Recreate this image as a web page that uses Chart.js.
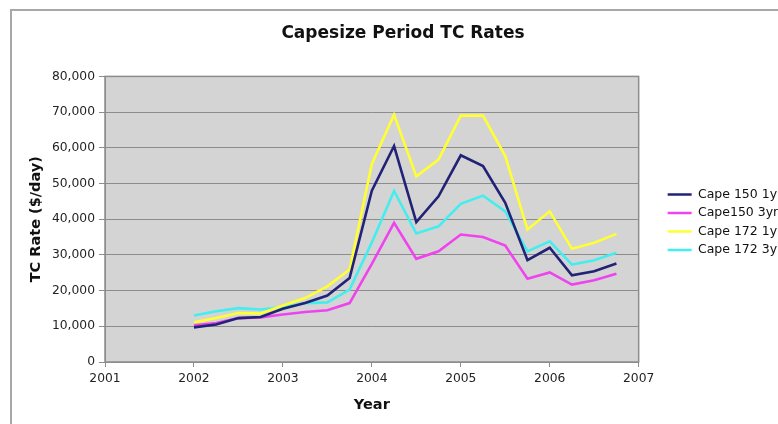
<!DOCTYPE html>
<html>
<head>
<meta charset="utf-8">
<title>Capesize Period TC Rates</title>
<script src="https://cdn.jsdelivr.net/npm/chart.js@4.4.0/dist/chart.umd.min.js"></script>
<style>
  html, body { margin: 0; padding: 0; background: #fff; overflow: hidden; }
  #wrap { position: relative; width: 800px; height: 424px; }
</style>
</head>
<body>
<div id="wrap"><canvas id="chart" width="800" height="424"></canvas></div>
<script>
// Quarterly time-charter rates, $/day
const quarters = [
  2002, 2002.25, 2002.5, 2002.75,
  2003, 2003.25, 2003.5, 2003.75,
  2004, 2004.25, 2004.5, 2004.75,
  2005, 2005.25, 2005.5, 2005.75,
  2006, 2006.25, 2006.5, 2006.75
];
const cape150_1yr = [9700, 10500, 12300, 12600, 14900, 16500, 18600, 23500, 48000, 60500, 39200, 46400, 57900, 54900, 44600, 28500, 32000, 24300, 25400, 27600];
const cape150_3yr = [10300, 10900, 12300, 12500, 13300, 14000, 14500, 16500, 27500, 39000, 28900, 31000, 35700, 35000, 32600, 23300, 25100, 21700, 22900, 24700];
const cape172_1yr = [11100, 12300, 13700, 13600, 15800, 17900, 21200, 25900, 55500, 69300, 52000, 56700, 69000, 69000, 57700, 37100, 42200, 31700, 33400, 35900];
const cape172_3yr = [13000, 14200, 15100, 14700, 15400, 16500, 16700, 20300, 33500, 47900, 36000, 38000, 44300, 46600, 42200, 31000, 33800, 27300, 28500, 30600];

const seriesNames = ['Cape 150 1yr', 'Cape150 3yr', 'Cape 172 1yr', 'Cape 172 3yr'];
const seriesValues = [cape150_1yr, cape150_3yr, cape172_1yr, cape172_3yr];
const seriesColors = ['#222277', '#ee44ee', '#ffff33', '#44eeee'];

const FONT = "'DejaVu Sans', Verdana, sans-serif";
Chart.defaults.font.family = FONT;
Chart.defaults.color = '#222';

const datasets = seriesNames.map((name, i) => ({
  label: name,
  data: quarters.map((q, j) => ({ x: q, y: seriesValues[i][j] })),
  borderColor: seriesColors[i],
  backgroundColor: seriesColors[i],
  borderWidth: 2.6,
  pointRadius: 0,
  pointHoverRadius: 0,
  tension: 0,
  fill: false
}));

// Gray plot area, its outline and the outer chart frame
const plotFrame = {
  id: 'plotFrame',
  beforeDraw(chart) {
    const { ctx, chartArea: a } = chart;
    ctx.save();
    ctx.fillStyle = '#ffffff';
    ctx.fillRect(0, 0, chart.width, chart.height);
    ctx.strokeStyle = '#a8a8a8';
    ctx.lineWidth = 2;
    ctx.beginPath();
    ctx.moveTo(11, chart.height);
    ctx.lineTo(11, 10);
    ctx.lineTo(chart.width, 10);
    ctx.stroke();
    ctx.fillStyle = '#d4d4d4';
    ctx.fillRect(a.left, a.top, a.right - a.left, a.bottom - a.top);
    ctx.restore();
  },
  beforeDatasetsDraw(chart) {
    const { ctx, chartArea: a } = chart;
    ctx.save();
    ctx.strokeStyle = '#8c8c8c';
    ctx.lineWidth = 1.5;
    ctx.strokeRect(a.left, a.top, a.right - a.left, a.bottom - a.top);
    ctx.restore();
  }
};

new Chart(document.getElementById('chart'), {
  type: 'line',
  data: { datasets },
  plugins: [plotFrame],
  options: {
    responsive: false,
    animation: false,
    locale: 'en-US',
    layout: { padding: { left: 15, right: 9, top: 0, bottom: 0 } },
    plugins: {
      title: {
        display: true,
        text: 'Capesize Period TC Rates',
        color: '#111',
        font: { size: 17, weight: 'bold' },
        padding: { top: 23, bottom: 33 }
      },
      legend: {
        display: true,
        position: 'right',
        align: 'center',
        fullSize: false,
        title: { display: true, text: '', padding: 0, font: { size: 5 } },
        labels: {
          usePointStyle: true,
          pointStyle: 'line',
          pointStyleWidth: 24,
          boxHeight: 12,
          padding: 6,
          color: '#111',
          font: { size: 12.5 }
        }
      },
      tooltip: { enabled: false }
    },
    scales: {
      x: {
        type: 'linear',
        position: 'bottom',
        min: 2001,
        max: 2007,
        afterFit: s => { s.height = 62; },
        ticks: {
          stepSize: 1,
          padding: 4,
          color: '#222',
          font: { size: 12.3 },
          callback: v => String(v)
        },
        grid: { drawOnChartArea: false, drawTicks: true, tickLength: 5, tickColor: '#8c8c8c' },
        border: { display: true, color: '#8c8c8c' },
        title: {
          display: true,
          text: 'Year',
          color: '#111',
          font: { size: 14.5, weight: 'bold' },
          padding: { top: 0, bottom: 10 }
        }
      },
      y: {
        type: 'linear',
        position: 'left',
        min: 0,
        max: 80000,
        afterFit: s => { s.width = 90; },
        ticks: {
          stepSize: 10000,
          padding: 4,
          color: '#222',
          font: { size: 12.3 }
        },
        grid: { color: '#8c8c8c', lineWidth: 1, drawTicks: true, tickLength: 6, tickColor: '#8c8c8c' },
        border: { display: true, color: '#8c8c8c' },
        title: {
          display: true,
          text: 'TC Rate ($/day)',
          color: '#111',
          font: { size: 14.5, weight: 'bold' },
          padding: { top: 13, bottom: 0 }
        }
      },
      // empty spacer between the plot and the legend
      gap: {
        type: 'linear',
        position: 'right',
        display: true,
        afterFit: s => { s.width = 23; },
        ticks: { display: false },
        grid: { display: false, drawTicks: false },
        border: { display: false },
        title: { display: false }
      }
    }
  }
});
</script>
</body>
</html>
